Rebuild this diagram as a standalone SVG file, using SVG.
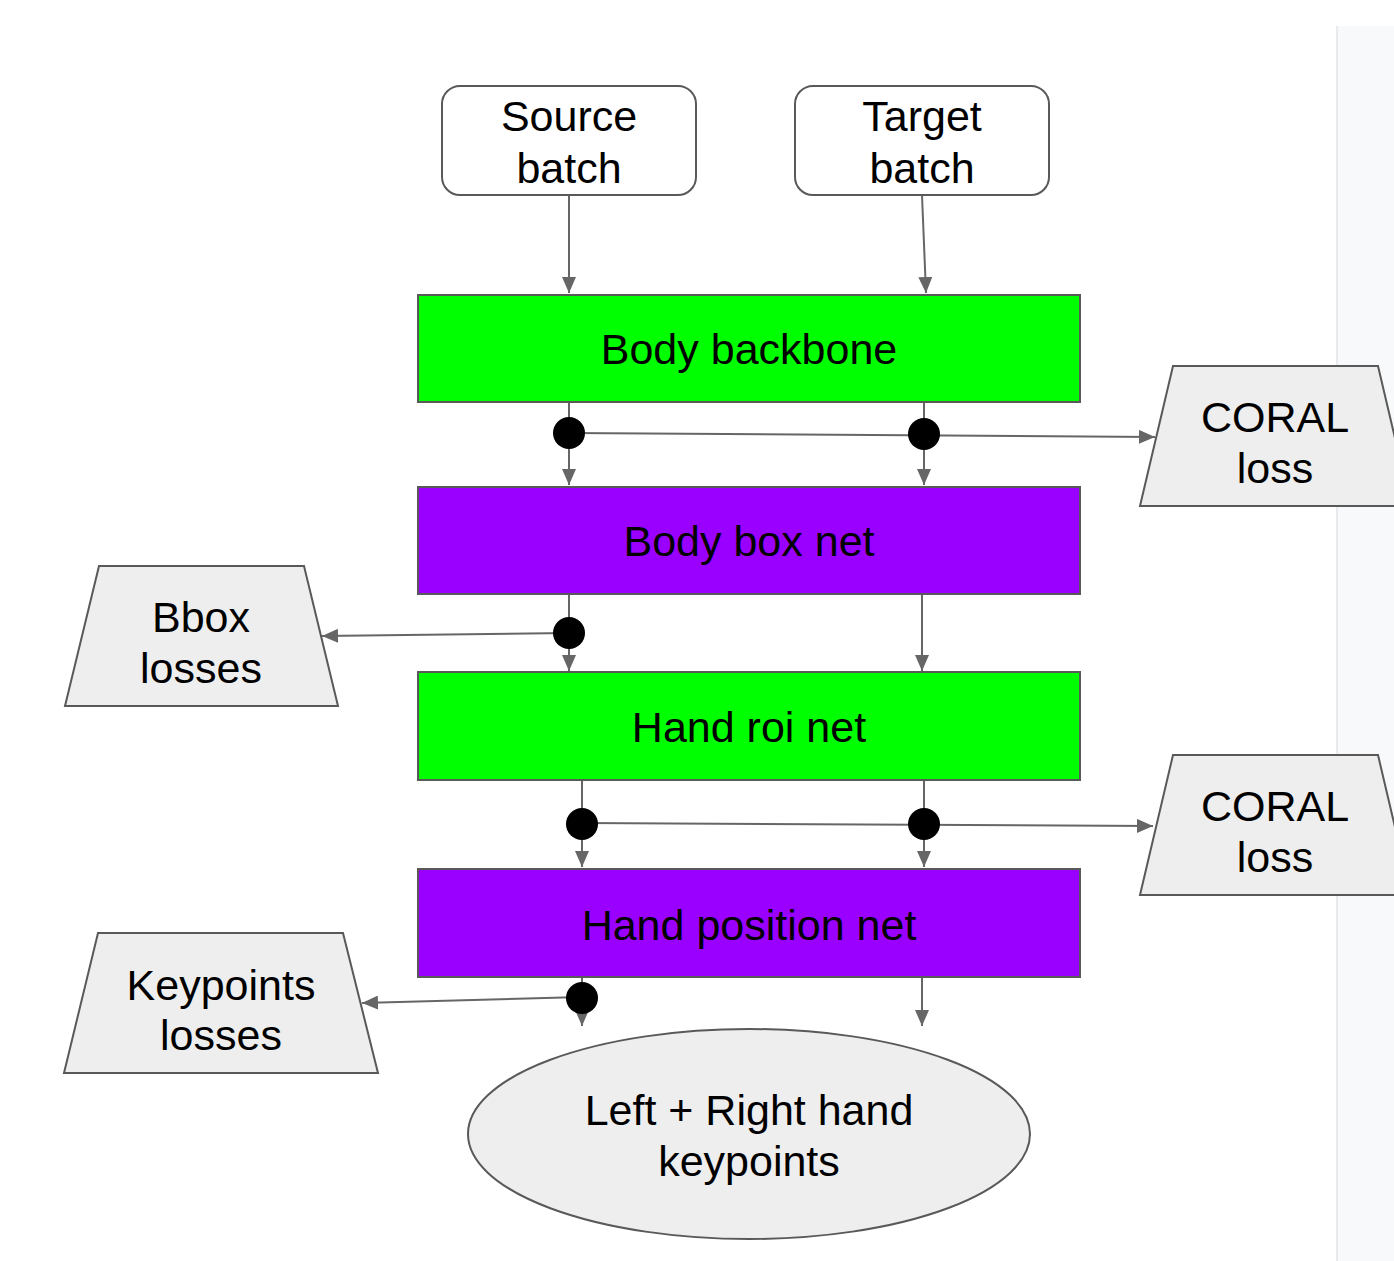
<svg xmlns="http://www.w3.org/2000/svg" width="1394" height="1261" viewBox="0 0 1394 1261">
<style>
  text { font-family: "Liberation Sans", Arial, sans-serif; font-size: 43px; fill: #000; text-anchor: middle; }
  .term { fill: #ffffff; stroke: #595959; stroke-width: 2; }
  .green { fill: #00ff00; stroke: #595959; stroke-width: 2; }
  .purple { fill: #9900ff; stroke: #595959; stroke-width: 2; }
  .loss { fill: #eeeeee; stroke: #595959; stroke-width: 2; }
  .edge { fill: none; stroke: #666666; stroke-width: 2; }
  .dot { fill: #000000; }
</style>
<defs>
  <marker id="arr" viewBox="0 0 10 10" refX="10" refY="5" markerWidth="8" markerHeight="8" markerUnits="userSpaceOnUse" orient="auto" >
    <path d="M0,0 L10,5 L0,10 z" fill="#666666"/>
  </marker>
  <marker id="ah" viewBox="0 0 16 14" refX="16" refY="7" markerWidth="16" markerHeight="14" markerUnits="userSpaceOnUse" orient="auto">
    <path d="M0,0 L16,7 L0,14 z" fill="#666666"/>
  </marker>
</defs>
<rect x="0" y="0" width="1394" height="1261" fill="#ffffff"/>
<rect x="1337" y="26" width="57" height="1235" fill="#f8f9fa"/>
<line x1="1337" y1="26" x2="1337" y2="1261" stroke="#e8eaed" stroke-width="2"/>

<g id="connectors">
  <path class="edge" d="M569,195 L569,293" marker-end="url(#ah)"/>
  <path class="edge" d="M922,195 L926,293" marker-end="url(#ah)"/>
  <path class="edge" d="M569,402 L569,485" marker-end="url(#ah)"/>
  <path class="edge" d="M924,402 L924,485" marker-end="url(#ah)"/>
  <path class="edge" d="M569,433 L1155,437" marker-end="url(#ah)"/>
  <path class="edge" d="M569,594 L569,671" marker-end="url(#ah)"/>
  <path class="edge" d="M922,594 L922,671" marker-end="url(#ah)"/>
  <path class="edge" d="M569,633 L322,636" marker-end="url(#ah)"/>
  <path class="edge" d="M582,780 L582,867" marker-end="url(#ah)"/>
  <path class="edge" d="M924,780 L924,867" marker-end="url(#ah)"/>
  <path class="edge" d="M582,823 L1153,826" marker-end="url(#ah)"/>
  <path class="edge" d="M582,977 L582,1026" marker-end="url(#ah)"/>
  <path class="edge" d="M922,977 L922,1026" marker-end="url(#ah)"/>
  <path class="edge" d="M582,997 L362,1003" marker-end="url(#ah)"/>
  <circle class="dot" cx="569" cy="433" r="16"/>
  <circle class="dot" cx="924" cy="434" r="16"/>
  <circle class="dot" cx="569" cy="633" r="16"/>
  <circle class="dot" cx="582" cy="824" r="16"/>
  <circle class="dot" cx="924" cy="824" r="16"/>
  <circle class="dot" cx="582" cy="998" r="16"/>
</g>

<g id="source-batch">
  <rect class="term" x="442" y="86" width="254" height="109" rx="18"/>
  <text x="569" y="131">Source</text>
  <text x="569" y="183">batch</text>
</g>
<g id="target-batch">
  <rect class="term" x="795" y="86" width="254" height="109" rx="18"/>
  <text x="922" y="131">Target</text>
  <text x="922" y="183">batch</text>
</g>
<g id="body-backbone">
  <rect class="green" x="418" y="295" width="662" height="107"/>
  <text x="749" y="364">Body backbone</text>
</g>
<g id="body-box-net">
  <rect class="purple" x="418" y="487" width="662" height="107"/>
  <text x="749" y="556">Body box net</text>
</g>
<g id="hand-roi-net">
  <rect class="green" x="418" y="672" width="662" height="108"/>
  <text x="749" y="742">Hand roi net</text>
</g>
<g id="hand-position-net">
  <rect class="purple" x="418" y="869" width="662" height="108"/>
  <text x="749" y="940">Hand position net</text>
</g>
<g id="coral-loss-1">
  <polygon class="loss" points="1173,366 1378,366 1411,506 1140,506"/>
  <text x="1275" y="432">CORAL</text>
  <text x="1275" y="483">loss</text>
</g>
<g id="coral-loss-2">
  <polygon class="loss" points="1173,755 1378,755 1411,895 1140,895"/>
  <text x="1275" y="821">CORAL</text>
  <text x="1275" y="872">loss</text>
</g>
<g id="bbox-losses">
  <polygon class="loss" points="99,566 304,566 338,706 65,706"/>
  <text x="201" y="632">Bbox</text>
  <text x="201" y="683">losses</text>
</g>
<g id="keypoints-losses">
  <polygon class="loss" points="98,933 343,933 378,1073 64,1073"/>
  <text x="221" y="1000">Keypoints</text>
  <text x="221" y="1050">losses</text>
</g>
<g id="hand-keypoints">
  <ellipse class="loss" cx="749" cy="1134" rx="281" ry="105"/>
  <text x="749" y="1125">Left + Right hand</text>
  <text x="749" y="1176">keypoints</text>
</g>
</svg>
